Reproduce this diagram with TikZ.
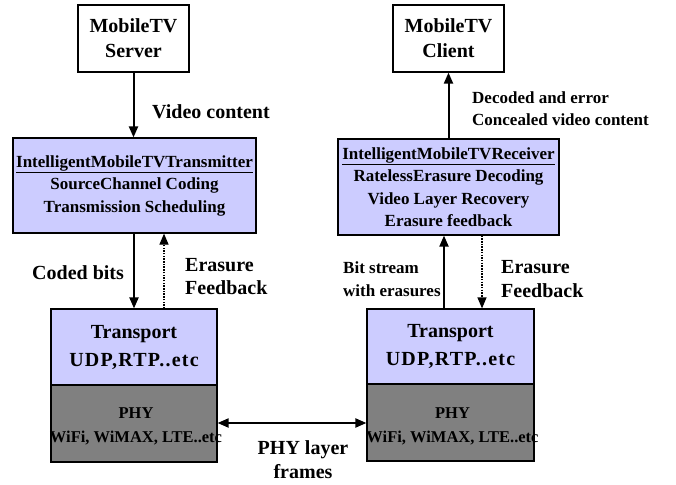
\documentclass[tikz,border=0pt]{standalone}
\usepackage{fontspec}
\setmainfont{Liberation Serif}
\usetikzlibrary{arrows.meta,calc}
\definecolor{lav}{RGB}{204,204,255}
\definecolor{phygray}{RGB}{128,128,128}
\newcommand{\fs}[2]{\fontsize{#1}{#2}\selectfont}
\tikzset{
  box/.style={draw=black, line width=1.2pt, rectangle, inner sep=0pt, align=center},
  lbl/.style={inner sep=0pt, align=left},
  f20/.style={font=\bfseries\fs{20}{25}},
  f17/.style={font=\bfseries\fs{17}{22.5}},
  phytxt/.style={inner sep=0pt, align=center, font=\bfseries\fs{16.5}{24}},
  arr/.style={line width=2pt, -{Triangle[length=11pt,width=9pt]}},
  darr/.style={line width=2pt, {Triangle[length=11pt,width=9pt]}-{Triangle[length=11pt,width=9pt]}},
  fb/.style={line width=1.2pt, dash pattern=on 1.5pt off 1.2pt, -{Triangle[length=11pt,width=9pt]}},
}
\begin{document}
\begin{tikzpicture}[x=1pt,y=-1pt]
\useasboundingbox (0,0) rectangle (676,484);
% top boxes
\node[box, f20, minimum width=111pt, minimum height=67pt] (server) at (133.5,38.5) {MobileTV\\Server};
\node[box, f20, minimum width=111pt, minimum height=67pt] (client) at (448.5,38.5) {MobileTV\\Client};
% middle boxes
\node[box, f17, fill=lav, minimum width=243pt, minimum height=95pt] (trans) at (134.5,185.5) {\underline{IntelligentMobileTVTransmitter}\\SourceChannel Coding\\Transmission Scheduling};
\node[box, f17, fill=lav, minimum width=221pt, minimum height=96pt] (recv) at (448.5,187) {\underline{IntelligentMobileTVReceiver}\\RatelessErasure Decoding\\Video Layer Recovery\\Erasure feedback};
% transport / phy
\node[box, font=\bfseries\fs{20}{28}, fill=lav, minimum width=166pt, minimum height=76pt] (tpL) at (134,347) {Transport\\{\addfontfeature{LetterSpace=6}UDP,RTP..etc}};
\node[box, fill=phygray, minimum width=166pt, minimum height=77pt] (phyL) at (134,423.5) {};
\node[phytxt] (phyLt) at (136,426.5) {PHY\\WiFi, WiMAX, LTE..etc};
\node[box, font=\bfseries\fs{20}{28}, fill=lav, minimum width=167pt, minimum height=75pt] (tpR) at (450.5,346.5) {Transport\\{\addfontfeature{LetterSpace=6}UDP,RTP..etc}};
\node[box, fill=phygray, minimum width=167pt, minimum height=77pt] (phyR) at (450.5,422.5) {};
\node[phytxt] (phyRt) at (452.5,426) {PHY\\WiFi, WiMAX, LTE..etc};
% connectors
\draw[arr] (server.south) -- (server.south |- trans.north);
\draw[arr] (recv.north) -- (recv.north |- client.south);
\coordinate (tl1) at ($(tpL.north)+(0,0)$);
\coordinate (tl2) at ($(tpL.north)+(30,0)$);
\draw[arr] (tl1 |- trans.south) -- (tl1);
\draw[fb] (tl2) -- (tl2 |- trans.south);
\coordinate (tr1) at ($(tpR.north)+(-6.5,0)$);
\coordinate (tr2) at ($(tpR.north)+(31.5,0)$);
\draw[arr] (tr1) -- (tr1 |- recv.south);
\draw[fb] (tr2 |- recv.south) -- (tr2);
\draw[darr] (phyL.east |- 0,423) -- (phyR.west |- 0,423);
% labels
\node[lbl, font=\bfseries\fs{20}{24}, anchor=west] (lvc) at (152,112) {Video content};
\node[lbl, font=\bfseries\fs{17}{22}, anchor=west] (ldec) at (472,109) {Decoded and error\\Concealed video content};
\node[lbl, font=\bfseries\fs{20}{24}, anchor=west] (lcb) at (32,273) {Coded bits};
\node[lbl, font=\bfseries\fs{20}{23}, anchor=west] (lefL) at (185,276.5) {Erasure\\Feedback};
\node[lbl, font=\bfseries\fs{17}{23}, anchor=west] (lbs) at (343,279.5) {Bit stream\\with erasures};
\node[lbl, font=\bfseries\fs{20}{24}, anchor=west] (lefR) at (501,279) {Erasure\\Feedback};
\node[lbl, font=\bfseries\fs{20}{24}, align=center] (lphy) at (303,460) {PHY layer\\frames};
\end{tikzpicture}
\end{document}
